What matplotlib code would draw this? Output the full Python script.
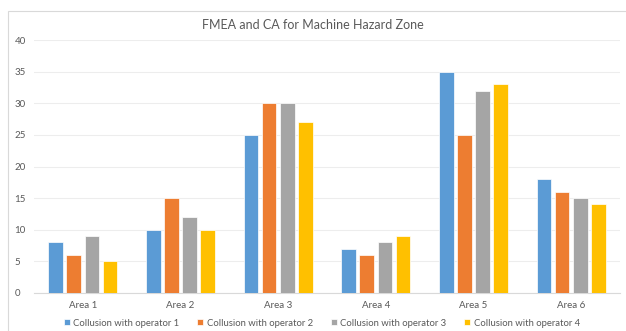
import matplotlib
matplotlib.use("Agg")
import matplotlib.pyplot as plt
import numpy as np
from matplotlib.patches import Rectangle

categories = ["Area 1", "Area 2", "Area 3", "Area 4", "Area 5", "Area 6"]
series_names = ["Collusion with operator 1", "Collusion with operator 2",
                "Collusion with operator 3", "Collusion with operator 4"]
op1 = [8, 10, 25, 7, 35, 18]
op2 = [6, 15, 30, 6, 25, 16]
op3 = [9, 12, 30, 8, 32, 15]
op4 = [5, 10, 27, 9, 33, 14]
colors = ["#5B9BD5", "#ED7D31", "#A5A5A5", "#FFC000"]
yticks = [0, 5, 10, 15, 20, 25, 30, 35, 40]

plt.rcParams['font.family'] = ['Lato', 'DejaVu Sans']

W, H = 626, 331
fig = plt.figure(figsize=(W / 100, H / 100), dpi=100)
fig.patches.append(Rectangle((8 / W, -0.1), 1.2, 1 - 11 / H + 0.1, transform=fig.transFigure,
                             fill=False, edgecolor="#D9D9D9", linewidth=0.8))

ax = fig.add_axes([34 / W, 1 - 293 / H, (620 - 34) / W, (293 - 40) / H])
x = np.arange(len(categories))
bw = 0.15
step = 0.185
for i, (vals, name, c) in enumerate(zip([op1, op2, op3, op4], series_names, colors)):
    ax.bar(x + (i - 1.5) * step, vals, width=bw, color=c, edgecolor="white",
           linewidth=0.5, label=name, zorder=3)

ax.set_xlim(-0.5, len(categories) - 0.5)
ax.set_ylim(0, 40)
ax.set_yticks(yticks)
ax.set_xticks(x)
ax.set_xticklabels(categories)
ax.grid(axis="y", color="#EDEDED", linewidth=0.8, zorder=0)
for s in ["top", "right", "left"]:
    ax.spines[s].set_visible(False)
ax.spines["bottom"].set_color("#D9D9D9")
ax.tick_params(axis="both", length=0, labelsize=7, colors="#595959")
ax.tick_params(axis="y", pad=14)
ax.tick_params(axis="x", pad=6)
for lbl in ax.get_yticklabels():
    lbl.set_horizontalalignment("left")

fig.text(0.5, 1 - 25 / H, "FMEA and CA for Machine Hazard Zone", ha="center", va="center",
         fontsize=9, color="#595959")

leg = fig.legend(loc="center", bbox_to_anchor=(322 / W, 1 - 323 / H), ncol=4, frameon=False,
                 fontsize=6.8, handlelength=0.6, handleheight=0.6, columnspacing=1.9,
                 handletextpad=0.4, borderaxespad=0)
for t in leg.get_texts():
    t.set_color("#595959")

fig.savefig("out.png", dpi=100)
